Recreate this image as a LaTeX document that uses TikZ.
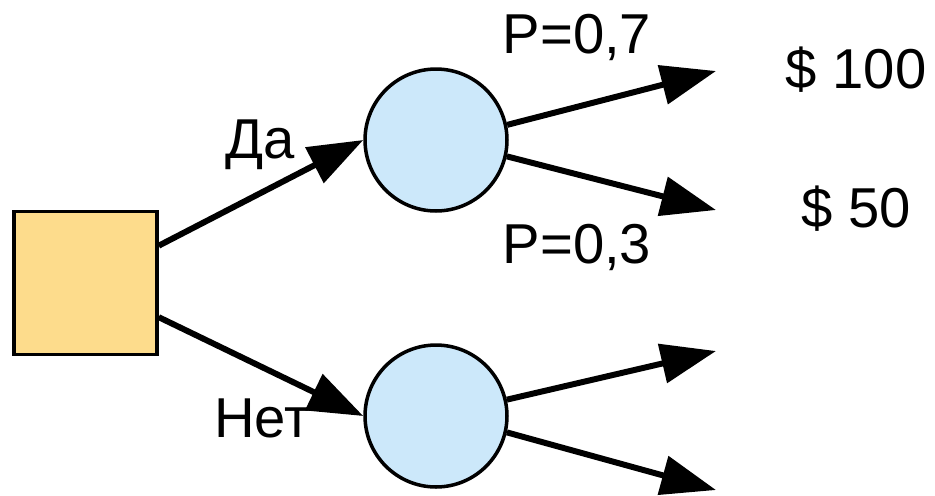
\documentclass[tikz,border=0pt]{standalone}
\usepackage{fontspec}
\setmainfont{Liberation Sans}
\usetikzlibrary{arrows.meta,positioning}

\definecolor{choicefill}{RGB}{253,220,140}
\definecolor{chancefill}{RGB}{204,232,250}

\begin{document}
\begin{tikzpicture}[
    x=0.02cm, y=-0.02cm,
    font=\fontsize{32}{38}\selectfont,
    choice/.style={draw, line width=2pt, fill=choicefill, minimum size=2.86cm, inner sep=0pt},
    chance/.style={draw, circle, line width=2pt, fill=chancefill, minimum size=2.84cm, inner sep=0pt},
    lbl/.style={anchor=base, inner sep=0pt},
    arrow/.style={-{Triangle[length=1.1cm, width=0.78cm]}, line width=3.4pt}
  ]
    \useasboundingbox (0,0) rectangle (935,495);

    \node[choice] (choice) at (85.5,283) {};
    \node[chance] (yes) at (436,140) {};
    \node[chance] (no) at (436,416) {};

    % free ends of the outcome branches
    \coordinate (yeshigh) at (716,71);
    \coordinate (yeslow) at (716,210);
    \coordinate (nohigh) at (716,351);
    \coordinate (nolow) at (716,490);

    \node[lbl] (pyes) at (577,53) {P=0,7};
    \node[lbl] (pno) at (577,263) {P=0,3};
    \node[lbl] (win) at (856,88) {\$ 100};
    \node[lbl] (lose) at (856,227) {\$ 50};
    \node[lbl] (da) at (260,158) {Да};
    \node[lbl] (net) at (262,437) {Нет};

    \draw[arrow] (choice.27) -- (yes.west);
    \draw[arrow] (choice.-25) -- (no.west);
    \draw[arrow] (yes.12) -- (yeshigh);
    \draw[arrow] (yes.-13) -- (yeslow);
    \draw[arrow] (no.13) -- (nohigh);
    \draw[arrow] (no.-13) -- (nolow);
  \end{tikzpicture}
\end{document}
